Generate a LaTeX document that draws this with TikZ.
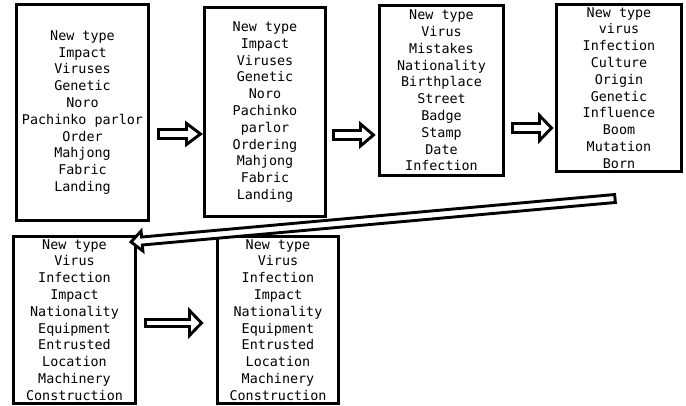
\documentclass[tikz,border=0pt]{standalone}
\usepackage{fontspec}
\setmonofont{DejaVu Sans Mono}
\usetikzlibrary{calc}

\begin{document}
\begin{tikzpicture}[x=1pt,y=-1pt,
  box/.style={draw,line width=3.2pt,align=center,inner sep=0pt,
    font=\ttfamily\fontsize{13.4}{16.8}\selectfont},
  hollow/.style n args={3}{line width=2.9pt,fill=white,to path={
    let \p1=(\tikztostart),\p2=(\tikztotarget),
        \n1={atan2(\y2-\y1,\x2-\x1)},\n2={veclen(\x2-\x1,\y2-\y1)} in
    ([shift={(\p1)},rotate=\n1]0pt,#1)
    -- ([shift={(\p1)},rotate=\n1]{\n2-#3},#1)
    -- ([shift={(\p1)},rotate=\n1]{\n2-#3},#2)
    -- ([shift={(\p1)},rotate=\n1]\n2,0pt)
    -- ([shift={(\p1)},rotate=\n1]{\n2-#3},-#2)
    -- ([shift={(\p1)},rotate=\n1]{\n2-#3},-#1)
    -- ([shift={(\p1)},rotate=\n1]0pt,-#1) -- cycle}}]
\useasboundingbox (0,0) rectangle (686,406);

% top row
\node[box,minimum width=132pt,minimum height=216pt] (b1) at (82.5,112.5)
  {New type\\Impact\\Viruses\\Genetic\\Noro\\Pachinko parlor\\Order\\Mahjong\\Fabric\\Landing};
\node[box,minimum width=121pt,minimum height=209pt] (b2) at (265,112)
  {New type\\Impact\\Viruses\\Genetic\\Noro\\Pachinko\\parlor\\Ordering\\Mahjong\\Fabric\\Landing};
\node[box,minimum width=124pt,minimum height=170pt] (b3) at (441.5,90.5)
  {New type\\Virus\\Mistakes\\Nationality\\Birthplace\\Street\\Badge\\Stamp\\Date\\Infection};
\node[box,minimum width=125pt,minimum height=167pt] (b4) at (619,88)
  {New type\\virus\\Infection\\Culture\\Origin\\Genetic\\Influence\\Boom\\Mutation\\Born};

% bottom row
\node[box,minimum width=122pt,minimum height=167pt] (b5) at (74.5,320)
  {New type\\Virus\\Infection\\Impact\\Nationality\\Equipment\\Entrusted\\Location\\Machinery\\Construction};
\node[box,minimum width=121pt,minimum height=167pt] (b6) at (278,320)
  {New type\\Virus\\Infection\\Impact\\Nationality\\Equipment\\Entrusted\\Location\\Machinery\\Construction};

% arrows
\coordinate (a1s) at (158.5,134); \coordinate (a1t) at (200.5,134);
\coordinate (a2s) at (333.5,135); \coordinate (a2t) at (373.5,135);
\coordinate (a3s) at (512.5,128); \coordinate (a3t) at (551.5,128);
\coordinate (a4s) at (615,198.5); \coordinate (a4t) at (131,242);
\coordinate (a5s) at (145.5,323); \coordinate (a5t) at (201.5,323);
\draw[hollow={4.5pt}{10.5pt}{14pt}] (a1s) to (a1t);
\draw[hollow={4.5pt}{11pt}{13pt}] (a2s) to (a2t);
\draw[hollow={4.5pt}{12.5pt}{12pt}] (a3s) to (a3t);
\draw[hollow={4pt}{10pt}{11pt}] (a4s) to (a4t);
\draw[hollow={3.5pt}{12.5pt}{12pt}] (a5s) to (a5t);
\end{tikzpicture}
\end{document}
